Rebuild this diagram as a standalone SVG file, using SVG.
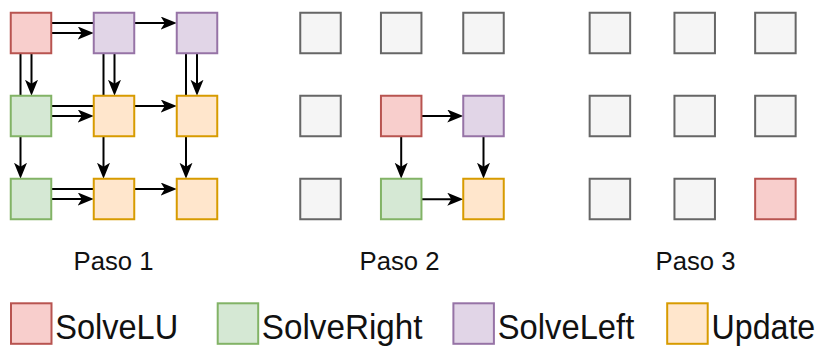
<svg xmlns="http://www.w3.org/2000/svg" width="821" height="347" viewBox="0 0 821 347">
<style>
.b{stroke-width:2}
.r{fill:#f8cecc;stroke:#b85450}
.g{fill:#d5e8d4;stroke:#82b366}
.p{fill:#e1d5e7;stroke:#9673a6}
.o{fill:#ffe6cc;stroke:#d79b00}
.n{fill:#f5f5f5;stroke:#666666}
.e{stroke:#000;stroke-width:2;fill:none;marker-end:url(#ah)}
.t{font-family:"Liberation Sans",Arial,sans-serif;fill:#111}
.ps{font-size:26px}
.lg{font-size:35px}
</style>
<defs>
<marker id="ah" markerUnits="userSpaceOnUse" markerWidth="17" markerHeight="14" refX="6" refY="6.5" orient="auto">
<path d="M0,0 L16,6.5 L0,13 L4,6.5 Z" fill="#000"/>
</marker>
</defs>
<g id="connectors">
<!-- Paso 1 horizontal -->
<line class="e" x1="51.25" y1="23" x2="166.75" y2="23"/>
<line class="e" x1="51.25" y1="33" x2="83.75" y2="33"/>
<line class="e" x1="51.25" y1="106" x2="166.75" y2="106"/>
<line class="e" x1="51.25" y1="116" x2="83.75" y2="116"/>
<line class="e" x1="51.25" y1="189" x2="166.75" y2="189"/>
<line class="e" x1="51.25" y1="199" x2="83.75" y2="199"/>
<!-- Paso 1 vertical -->
<line class="e" x1="20.5" y1="53.25" x2="20.5" y2="168.75"/>
<line class="e" x1="31.5" y1="53.25" x2="31.5" y2="85.75"/>
<line class="e" x1="103.5" y1="53.25" x2="103.5" y2="168.75"/>
<line class="e" x1="114.5" y1="53.25" x2="114.5" y2="85.75"/>
<line class="e" x1="186" y1="53.25" x2="186" y2="168.75"/>
<line class="e" x1="197" y1="53.25" x2="197" y2="85.75"/>
<!-- Paso 2 -->
<line class="e" x1="421.5" y1="116" x2="453.25" y2="116"/>
<line class="e" x1="401.2" y1="136.25" x2="401.2" y2="168.75"/>
<line class="e" x1="483.5" y1="136.25" x2="483.5" y2="168.75"/>
<line class="e" x1="421.5" y1="199.2" x2="453.25" y2="199.2"/>
</g>
<g id="paso1">
<g id="p1-00"><rect class="b r" x="10.75" y="12.75" width="40.5" height="40.5"/></g>
<g id="p1-01"><rect class="b p" x="93.75" y="12.75" width="40.5" height="40.5"/></g>
<g id="p1-02"><rect class="b p" x="176.75" y="12.75" width="40.5" height="40.5"/></g>
<g id="p1-10"><rect class="b g" x="10.75" y="95.75" width="40.5" height="40.5"/></g>
<g id="p1-11"><rect class="b o" x="93.75" y="95.75" width="40.5" height="40.5"/></g>
<g id="p1-12"><rect class="b o" x="176.75" y="95.75" width="40.5" height="40.5"/></g>
<g id="p1-20"><rect class="b g" x="10.75" y="178.75" width="40.5" height="40.5"/></g>
<g id="p1-21"><rect class="b o" x="93.75" y="178.75" width="40.5" height="40.5"/></g>
<g id="p1-22"><rect class="b o" x="176.75" y="178.75" width="40.5" height="40.5"/></g>
</g>
<g id="paso2">
<g id="p2-00"><rect class="b n" x="300.25" y="12.75" width="40.5" height="40.5"/></g>
<g id="p2-01"><rect class="b n" x="380.95" y="12.75" width="40.5" height="40.5"/></g>
<g id="p2-02"><rect class="b n" x="463.25" y="12.75" width="40.5" height="40.5"/></g>
<g id="p2-10"><rect class="b n" x="300.25" y="95.75" width="40.5" height="40.5"/></g>
<g id="p2-11"><rect class="b r" x="380.95" y="95.75" width="40.5" height="40.5"/></g>
<g id="p2-12"><rect class="b p" x="463.25" y="95.75" width="40.5" height="40.5"/></g>
<g id="p2-20"><rect class="b n" x="300.25" y="178.75" width="40.5" height="40.5"/></g>
<g id="p2-21"><rect class="b g" x="380.95" y="178.75" width="40.5" height="40.5"/></g>
<g id="p2-22"><rect class="b o" x="463.25" y="178.75" width="40.5" height="40.5"/></g>
</g>
<g id="paso3">
<g id="p3-00"><rect class="b n" x="589.65" y="12.75" width="40.5" height="40.5"/></g>
<g id="p3-01"><rect class="b n" x="674.45" y="12.75" width="40.5" height="40.5"/></g>
<g id="p3-02"><rect class="b n" x="755.15" y="12.75" width="40.5" height="40.5"/></g>
<g id="p3-10"><rect class="b n" x="589.65" y="95.75" width="40.5" height="40.5"/></g>
<g id="p3-11"><rect class="b n" x="674.45" y="95.75" width="40.5" height="40.5"/></g>
<g id="p3-12"><rect class="b n" x="755.15" y="95.75" width="40.5" height="40.5"/></g>
<g id="p3-20"><rect class="b n" x="589.65" y="178.75" width="40.5" height="40.5"/></g>
<g id="p3-21"><rect class="b n" x="674.45" y="178.75" width="40.5" height="40.5"/></g>
<g id="p3-22"><rect class="b r" x="755.15" y="178.75" width="40.5" height="40.5"/></g>
</g>
<g id="labels">
<text class="t ps" x="73.5" y="270" textLength="80" lengthAdjust="spacingAndGlyphs">Paso 1</text>
<text class="t ps" x="359.5" y="270" textLength="80" lengthAdjust="spacingAndGlyphs">Paso 2</text>
<text class="t ps" x="655.5" y="270" textLength="80" lengthAdjust="spacingAndGlyphs">Paso 3</text>
</g>
<g id="legend">
<g id="lg-solvelu"><rect class="b r" x="11" y="303.3" width="40.5" height="40.5"/><text class="t lg" transform="translate(55.2,338.5) scale(0.93,1)">SolveLU</text></g>
<g id="lg-solveright"><rect class="b g" x="217.7" y="303.3" width="40.5" height="40.5"/><text class="t lg" transform="translate(261.8,338.5) scale(0.95,1)">SolveRight</text></g>
<g id="lg-solveleft"><rect class="b p" x="453.4" y="303.3" width="40.5" height="40.5"/><text class="t lg" transform="translate(497.8,338.5) scale(0.935,1)">SolveLeft</text></g>
<g id="lg-update"><rect class="b o" x="667.2" y="303.3" width="40.5" height="40.5"/><text class="t lg" transform="translate(711.5,338.5) scale(0.92,1)">Update</text></g>
</g>
</svg>
